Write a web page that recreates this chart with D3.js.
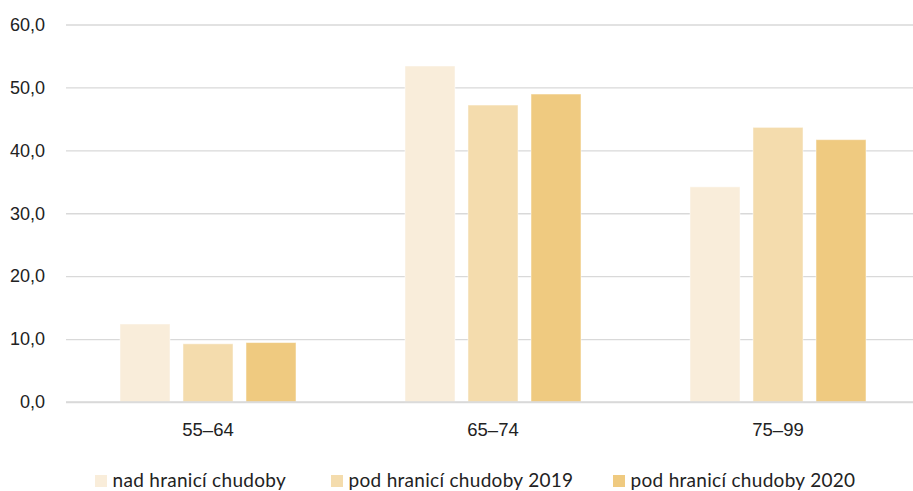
<!DOCTYPE html>
<html>
<head>
<meta charset="utf-8">
<script src="https://cdn.jsdelivr.net/npm/d3@7"></script>
<style>
  html, body { margin: 0; padding: 0; background: #fff; }
  svg { display: block; font-family: Lato, "Open Sans", sans-serif; }
</style>
</head>
<body>
<svg id="chart" width="913" height="491"></svg>
<script>
const categories = ["55–64", "65–74", "75–99"];
const seriesNames = ["nad hranicí chudoby", "pod hranicí chudoby 2019", "pod hranicí chudoby 2020"];
const nadHranici = [12.4, 53.4, 34.2];
const pod2019 = [9.25, 47.2, 43.65];
const pod2020 = [9.45, 48.95, 41.7];
const yTicks = [0, 10, 20, 30, 40, 50, 60];
const colors = ["#F9EDDA", "#F4DCAD", "#EFCA80"];

const series = [nadHranici, pod2019, pod2020];
const svg = d3.select("#chart");

const y = d3.scaleLinear().domain([0, 60]).range([402, 24.5]);
const x0 = d3.scaleBand().domain(categories).range([65.5, 920.5]).paddingInner(0).paddingOuter(0);
const x1 = d3.scaleBand().domain(d3.range(3)).range([0, x0.bandwidth()]).paddingInner(0.206).paddingOuter(0.865);

// gridlines
const yAxis = d3.axisLeft(y).tickValues(yTicks).tickSize(-(913 - 66)).tickPadding(21)
  .tickFormat(d => d3.format(".1f")(d).replace(".", ","));
const gy = svg.append("g").attr("transform", "translate(66,0)").call(yAxis);
gy.select(".domain").remove();
gy.selectAll(".tick line").attr("stroke", "#d9d9d9").attr("stroke-width", 1.3);
gy.selectAll(".tick text").attr("fill", "#222").attr("font-size", 18);

// bars
const groups = svg.append("g").selectAll("g").data(categories).join("g")
  .attr("transform", d => `translate(${x0(d)},0)`);
groups.selectAll("rect").data((c, ci) => series.map((s, si) => ({ si, v: s[ci] })))
  .join("rect")
  .attr("x", d => x1(d.si))
  .attr("width", x1.bandwidth())
  .attr("y", d => y(d.v))
  .attr("height", d => y(0) - y(d.v))
  .attr("fill", d => colors[d.si])
  .attr("stroke", "#fff")
  .attr("stroke-opacity", 0.5)
  .attr("stroke-width", 1);

// baseline redraw over bars
svg.append("line").attr("x1", 66).attr("x2", 913).attr("y1", y(0)).attr("y2", y(0))
  .attr("stroke", "#d9d9d9").attr("stroke-width", 1.3);

// x axis labels
const xAxis = d3.axisBottom(x0).tickSize(0).tickPadding(21);
const gx = svg.append("g").attr("transform", `translate(0,${y(0)})`).call(xAxis);
gx.select(".domain").remove();
gx.selectAll(".tick text").attr("fill", "#222").attr("font-size", 18.5);

// legend
const legendX = [95, 331, 613];
const lg = svg.append("g").selectAll("g").data(seriesNames).join("g")
  .attr("transform", (d, i) => `translate(${legendX[i]},475)`);
lg.append("rect").attr("width", 12).attr("height", 12).attr("fill", (d, i) => colors[i]);
lg.append("text").attr("x", 17.5).attr("y", 12).attr("font-size", 19)
  .attr("letter-spacing", 0.3).attr("fill", "#222").text(d => d);
</script>
</body>
</html>
